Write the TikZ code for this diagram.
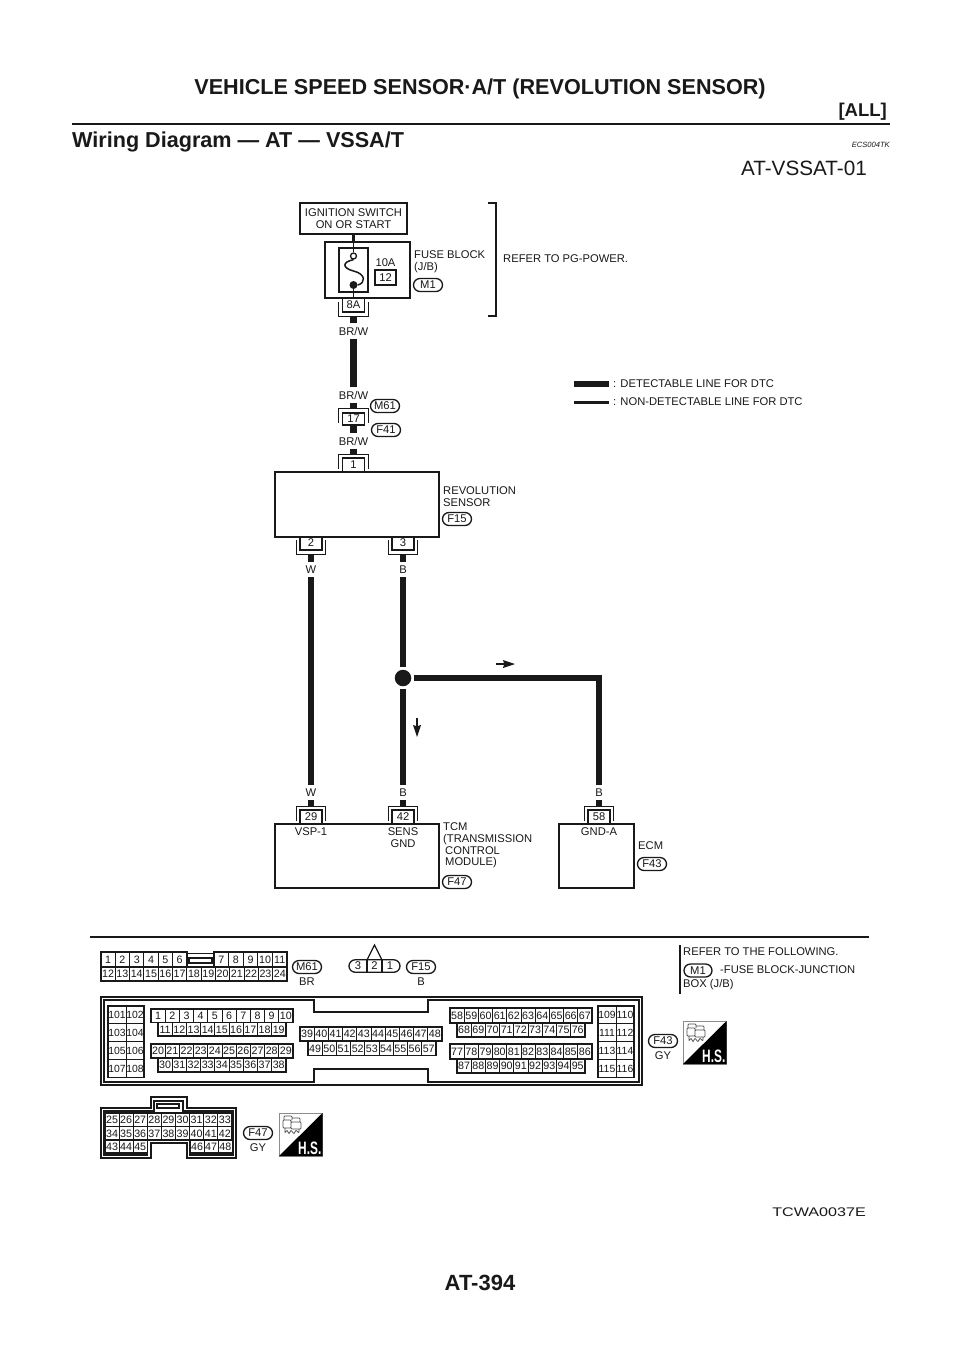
\documentclass[tikz,border=0pt]{standalone}
\usepackage{fontspec}
\usepackage{graphicx}
\setmainfont{Liberation Sans}
\usetikzlibrary{shapes.misc}
\definecolor{ink}{gray}{0.1}
\tikzset{
  every node/.style={text=ink,inner sep=0pt},
  txt/.style={font=\fontsize{11.2}{11.6}\selectfont,anchor=west,align=left},
  ctr/.style={font=\fontsize{11.2}{11.6}\selectfont,align=center},
  wirelabel/.style={font=\fontsize{11.2}{11.6}\selectfont,text height=8pt,text depth=0pt,inner ysep=3.5pt},
  boxline/.style={draw=ink,line width=1.3pt},
  block/.style={boxline,fill=white,minimum width=#1},
  pinbox/.style={boxline,fill=white,minimum width=22pt,minimum height=14pt,font=\fontsize{11.2}{11.6}\selectfont},
  pill/.style={draw=ink,line width=1.3pt,rounded rectangle,minimum width=29pt,minimum height=13pt,font=\fontsize{11.2}{11.6}\selectfont},
  wire/.style={draw=ink,line width=6.5pt},
  thinwire/.style={draw=ink,line width=1.5pt},
  wirethree/.style={draw=ink,line width=3pt},
  cellbox/.style={draw=ink,line width=0.9pt,inner sep=0pt,text height=7.6pt,text depth=0pt,font=\fontsize{10.7}{11}\selectfont},
  frame/.style={draw=ink,line width=1.4pt},
  bracketframe/.style={inner sep=0pt,minimum width=29pt,minimum height=14pt},
}
% connector above a block: #1 name, #2 x, #3 top of bracket, #4 text
\newcommand{\connTop}[4]{%
  \node[pinbox] (#1) at (#2,#3+10) {#4};
  \node[bracketframe] (#1o) at (#2,#3+7) {};
  \draw[boxline] (#1o.south west) -- (#1o.north west) -- (#1o.north east) -- (#1o.south east);
}
% connector below a block: #1 name, #2 x, #3 bottom of bracket, #4 text
\newcommand{\connBot}[4]{%
  \node[pinbox] (#1) at (#2,#3-11) {#4};
  \node[bracketframe] (#1o) at (#2,#3-7) {};
  \draw[boxline] (#1o.north west) -- (#1o.south west) -- (#1o.south east) -- (#1o.north east);
}
% row of numbered cells: #1 name prefix, #2 x0, #3 y0, #4 cell w, #5 h, #6 first, #7 last
\newcommand{\cellrow}[7][]{%
  \foreach \n in {#6,...,#7} {%
    \pgfmathsetmacro{\cx}{#2+(\n-#6+0.5)*#4}%
    \node[cellbox,minimum width=#4 pt,minimum height=#5 pt] (cell#1-\n) at (\cx,#3+#5/2) {\n};
  }%
  \draw[frame] (#2,#3) rectangle (#2+#4*#7-#4*#6+#4,#3+#5);
}
\newcommand{\hsicon}[3]{%
  \begin{scope}[shift={(#2,#3)}]
    \draw[draw=black!45,line width=0.9pt,fill=white] (0,0) rectangle (43.5,43);
    \fill[black] (0,43) -- (43.5,0) -- (43.5,43) -- cycle;
    \draw[black!70,line width=0.7pt,rounded corners=0.8pt]
      (5,7) -- (5,3) -- (13,3) -- (13,7) (4,7) rectangle (12,15)
      (13,5) -- (21,5) -- (21,9) (12,9) rectangle (22,16)
      (6,15) -- (6,20) -- (8,17) -- (10,21) -- (12,17) -- (15,21) -- (17,17) -- (20,20) -- (20,16);
    \node[font=\bfseries\fontsize{18}{19}\selectfont,text=white,anchor=base east] (#1) at (42.5,41) {\scalebox{0.66}[1]{H.S.}};
  \end{scope}
}
\begin{document}
\begin{tikzpicture}[x=1pt,y=-1pt]
\useasboundingbox (0,0) rectangle (960,1358);
\fill[white] (0,0) rectangle (960,1358);

% page header
\node[font=\bfseries\fontsize{21.6}{23}\selectfont,anchor=base] (title) at (480,94) {VEHICLE SPEED SENSOR·A/T (REVOLUTION SENSOR)};
\node[font=\bfseries\fontsize{18.5}{20}\selectfont,anchor=base east] (all) at (887,116) {[ALL]};
\draw[draw=ink,line width=2.2pt] (72,124) -- (890,124);
\node[font=\bfseries\fontsize{21.6}{23}\selectfont,anchor=base west] (heading) at (72,147) {Wiring Diagram — AT — VSSA/T};
\node[font=\itshape\fontsize{7.6}{8}\selectfont,anchor=base east] (ecs) at (890,147) {ECS004TK};
\node[font=\fontsize{20.7}{22}\selectfont,anchor=base east] (atv) at (867,175.5) {AT-VSSAT-01};

% ignition and fuse block
\node[boxline,fill=white,minimum width=107pt,minimum height=31pt,ctr] (ign) at (353.5,218.5) {IGNITION SWITCH\\ON OR START};
\node[boxline,minimum width=85pt,minimum height=56pt] (fuseblk) at (367.5,270) {};
\node[boxline,minimum width=29pt,minimum height=44pt] (fuse) at (353.5,270) {};
\node[circle,draw=ink,line width=1.3pt,fill=white,minimum size=6pt] (fopen) at (353.5,256) {};
\node[circle,fill=ink,minimum size=8pt] (fclosed) at (353.5,285) {};
\draw[wirethree] (ign.south) -- (ign.south |- fuseblk.north);
\draw[thinwire] (ign.south |- fuseblk.north) -- (fopen.north);
\draw[thinwire] (fopen.south) .. controls (342,262) and (342,268) .. (353.5,271) .. controls (366,274) and (366,283) .. (fclosed.east);
\node[txt,anchor=center] (amp) at (385.5,263) {10A};
\node[boxline,minimum width=21pt,minimum height=15pt,font=\fontsize{11.2}{11.6}\selectfont] (f12) at (385.5,277.5) {12};
\node[txt] (fbtext) at (414,261.5) {FUSE BLOCK\\(J/B)};
\node[pill] (pm1) at (428,285) {M1};
\draw[draw=ink,line width=1.5pt] (488,203) -- (496,203) -- (496,316) -- (488,316);
\node[txt] (refpg) at (503,259) {REFER TO PG-POWER.};

\connBot{c8a}{353.5}{316}{8A}
\draw[thinwire] (fclosed.south) -- (c8a.north);

% legend
\node[txt] (leg1) at (613,384) {: DETECTABLE LINE FOR DTC};
\node[txt] (leg2) at (613,402) {: NON-DETECTABLE LINE FOR DTC};
\coordinate (leg1a) at (574,384);
\coordinate (leg2a) at (574,402);
\draw[wire,shorten >=4pt] (leg1a) -- (leg1.west);
\draw[wirethree,shorten >=4pt] (leg2a) -- (leg2.west);

% upper harness
\node[wirelabel] (lb1) at (353.5,331) {BR/W};
\node[wirelabel] (lb2) at (353.5,395) {BR/W};
\node[wirelabel] (lb3) at (353.5,441) {BR/W};
\draw[wire] (c8ao.south) -- (lb1.north);
\draw[wire] (lb1.south) -- (lb2.north);
\node[pinbox,minimum height=12pt] (c17) at (353.5,419) {17};
\node[bracketframe] (c17o) at (353.5,416) {};
\draw[boxline] (c17o.south west) -- (c17o.north west) -- (c17o.north east) -- (c17o.south east);
\draw[wire] (lb2.south) -- (c17o.north);
\draw[wire] (c17.south) -- (lb3.north);
\node[pill] (pm61) at (385,406) {M61};
\node[pill] (pf41) at (386,430) {F41};

% revolution sensor
\connTop{c1}{353.5}{455}{\raisebox{-0.5pt}{1}}
\draw[wire] (lb3.south) -- (c1o.north);
\connBot{c2}{311}{554}{2}
\connBot{c3}{403}{554}{3}
\node[block=164pt,minimum height=65pt] (sensor) at (357,504.5) {};
\node[txt] (revtext) at (443,496.5) {REVOLUTION\\SENSOR};
\node[pill] (pf15) at (457,519) {F15};

\node[wirelabel] (lw1) at (311,569.5) {W};
\node[wirelabel] (lbk1) at (403,569.5) {B};
\node[wirelabel] (lw2) at (311,792.5) {W};
\node[wirelabel] (lbk2) at (403,792.5) {B};
\node[wirelabel] (lbk3) at (599,792.5) {B};
\draw[wire] (c2o.south) -- (lw1.north);
\draw[wire] (c3o.south) -- (lbk1.north);

% TCM and ECM
\connTop{c29}{311}{807}{\raisebox{-1pt}{29}}
\connTop{c42}{403}{807}{\raisebox{-1pt}{42}}
\connTop{c58}{599}{807}{\raisebox{-1pt}{58}}
\node[block=164pt,minimum height=64pt] (tcm) at (357,856) {};
\node[block=75pt,minimum height=64pt] (ecm) at (596.5,856) {};
\node[ctr] (vsp) at (311,832) {VSP-1};
\node[ctr,anchor=north] (sens) at (403,827.5) {SENS\\GND};
\node[ctr] (gnda) at (599,832) {GND-A};
\node[txt] (tcmtext) at (443,845.5) {TCM\\(TRANSMISSION\\\hspace{2pt}CONTROL\\\hspace{2pt}MODULE)};
\node[pill] (pf47) at (457,882) {F47};
\node[txt] (ecmtext) at (638,846) {ECM};
\node[pill] (pf43) at (652,864) {F43};

\draw[wire] (lw1.south) -- (lw2.north);
\node[circle,fill=ink,minimum size=16.5pt,outer sep=2.7pt] (junc) at (403,678) {};
\draw[wire] (lbk1.south) -- (junc.north);
\draw[wire] (junc.south) -- (lbk2.north);
\draw[wire,line join=miter] (junc.east) -- ++(1,0) -| (lbk3.north);
\draw[wire] (lw2.south) -- (c29o.north);
\draw[wire] (lbk2.south) -- (c42o.north);
\draw[wire] (lbk3.south) -- (c58o.north);

% signal direction arrows
\fill[ink] (496,663.2) -- (504,663.2) -- (503,660) -- (515,664) -- (503,668) -- (504,664.8) -- (496,664.8) -- cycle;
\fill[ink] (416.2,718) -- (416.2,726) -- (413,725) -- (417,737) -- (421,725) -- (417.8,726) -- (417.8,718) -- cycle;

% lower part
\draw[draw=ink,line width=2pt] (90,937) -- (869,937);
\draw[draw=ink,line width=1.6pt] (680,945) -- (680,994);
\node[txt] (refer) at (683,952) {REFER TO THE FOLLOWING.};
\node[pill,minimum width=28pt] (lm1) at (698,970.5) {M1};
\node[txt] (fbj) at (720,970) {-FUSE BLOCK-JUNCTION};
\node[txt] (boxjb) at (683,985) {BOX (J/B)};

% M61 connector
\cellrow[m]{101}{952}{14.3}{15}{1}{6}
\cellrow[m]{214}{952}{14.6}{15}{7}{11}
\cellrow[m]{101}{967}{14.3}{14}{12}{24}
\draw[frame] (187,953.5) -- (214,953.5);
\draw[frame] (189,958) rectangle (212,963);
\node[pill] (bm61) at (307,967) {M61};
\node[ctr] (bbr) at (307,982) {BR};

% F15 connector
\node[rounded rectangle,draw=ink,line width=1.3pt,minimum width=51pt,minimum height=12.5pt] (p321) at (374.5,966) {};
\draw[boxline] (367,960) -- (367,972) (382,960) -- (382,972);
\draw[boxline] (367,960) -- (374.5,945) -- (382,960);
\node[ctr] (n3) at (358,966) {3};
\node[ctr] (n2) at (374.5,966) {2};
\node[ctr] (n1) at (390,966) {1};
\node[pill] (bf15) at (421,967) {F15};
\node[ctr] (bb) at (421,982) {B};

% F43 connector
\draw[frame] (101,997) rectangle (642,1085);
\draw[frame] (104,1000) -- (314,1000) -- (314,1012) -- (428,1012) -- (428,1000) -- (639,1000) -- (639,1082) -- (428,1082) -- (428,1069) -- (314,1069) -- (314,1082) -- (104,1082) -- cycle;
\foreach \lx/\a/\b/\r in {108/101/102/0,108/103/104/1,108/105/106/2,108/107/108/3,598/109/110/0,598/111/112/1,598/113/114/2,598/115/116/3} {
  \pgfmathsetmacro{\yy}{1006+\r*17.9+8.95}
  \pgfmathsetmacro{\xa}{\lx+9}
  \pgfmathsetmacro{\xb}{\lx+27}
  \node[cellbox,minimum width=18pt,minimum height=17.9pt,font=\fontsize{10.4}{11}\selectfont] (side-\a) at (\xa,\yy) {\a};
  \node[cellbox,minimum width=18pt,minimum height=17.9pt,font=\fontsize{10.4}{11}\selectfont] (side-\b) at (\xb,\yy) {\b};
}
\draw[frame] (108,1006) rectangle (144,1077.6);
\draw[frame] (598,1006) rectangle (634,1077.6);
\cellrow[e]{151}{1009}{14.2}{13.5}{1}{10}
\cellrow[e]{158}{1022.5}{14.2}{13.5}{11}{19}
\cellrow[e]{151}{1044}{14.2}{14}{20}{29}
\cellrow[e]{158}{1058}{14.2}{14}{30}{38}
\cellrow[e]{300}{1027}{14.2}{14}{39}{48}
\cellrow[e]{308}{1041}{14.2}{14.5}{49}{57}
\cellrow[e]{450}{1008}{14.2}{15}{58}{67}
\cellrow[e]{457}{1023}{14.2}{14}{68}{76}
\cellrow[e]{450}{1044}{14.2}{15}{77}{86}
\cellrow[e]{457}{1059}{14.2}{14}{87}{95}
\node[pill] (bf43) at (663,1041) {F43};
\node[ctr] (bgy1) at (663,1056) {GY};
\hsicon{hs1}{683}{1021}

% F47 connector
\draw[frame] (101,1108) -- (151,1108) -- (151,1097) -- (187,1097) -- (187,1108) -- (236,1108) -- (236,1158) -- (187,1158) -- (187,1143) -- (151,1143) -- (151,1158) -- (101,1158) -- cycle;
\draw[frame] (104,1111) -- (154,1111) -- (154,1101) -- (183,1101) -- (183,1111) -- (233,1111) -- (233,1155) -- (190,1155) -- (190,1140) -- (147.5,1140) -- (147.5,1155) -- (104,1155) -- cycle;
\draw[frame] (157,1104) rectangle (179,1108);
\cellrow[g]{105}{1113}{14.1}{13.5}{25}{33}
\cellrow[g]{105}{1126.5}{14.1}{13.5}{34}{42}
\cellrow[g]{105}{1140}{14.1}{13}{43}{45}
\cellrow[g]{190}{1140}{14.1}{13}{46}{48}
\node[pill] (bf47) at (258,1133) {F47};
\node[ctr] (bgy2) at (258,1148) {GY};
\hsicon{hs2}{279}{1113}

% footer
\node[font=\fontsize{12.5}{13}\selectfont,anchor=east] (tcwa) at (866,1212) {\scalebox{1.29}[1]{TCWA0037E}};
\node[font=\bfseries\fontsize{22}{24}\selectfont] (page) at (480,1283) {AT-394};
\end{tikzpicture}
\end{document}
